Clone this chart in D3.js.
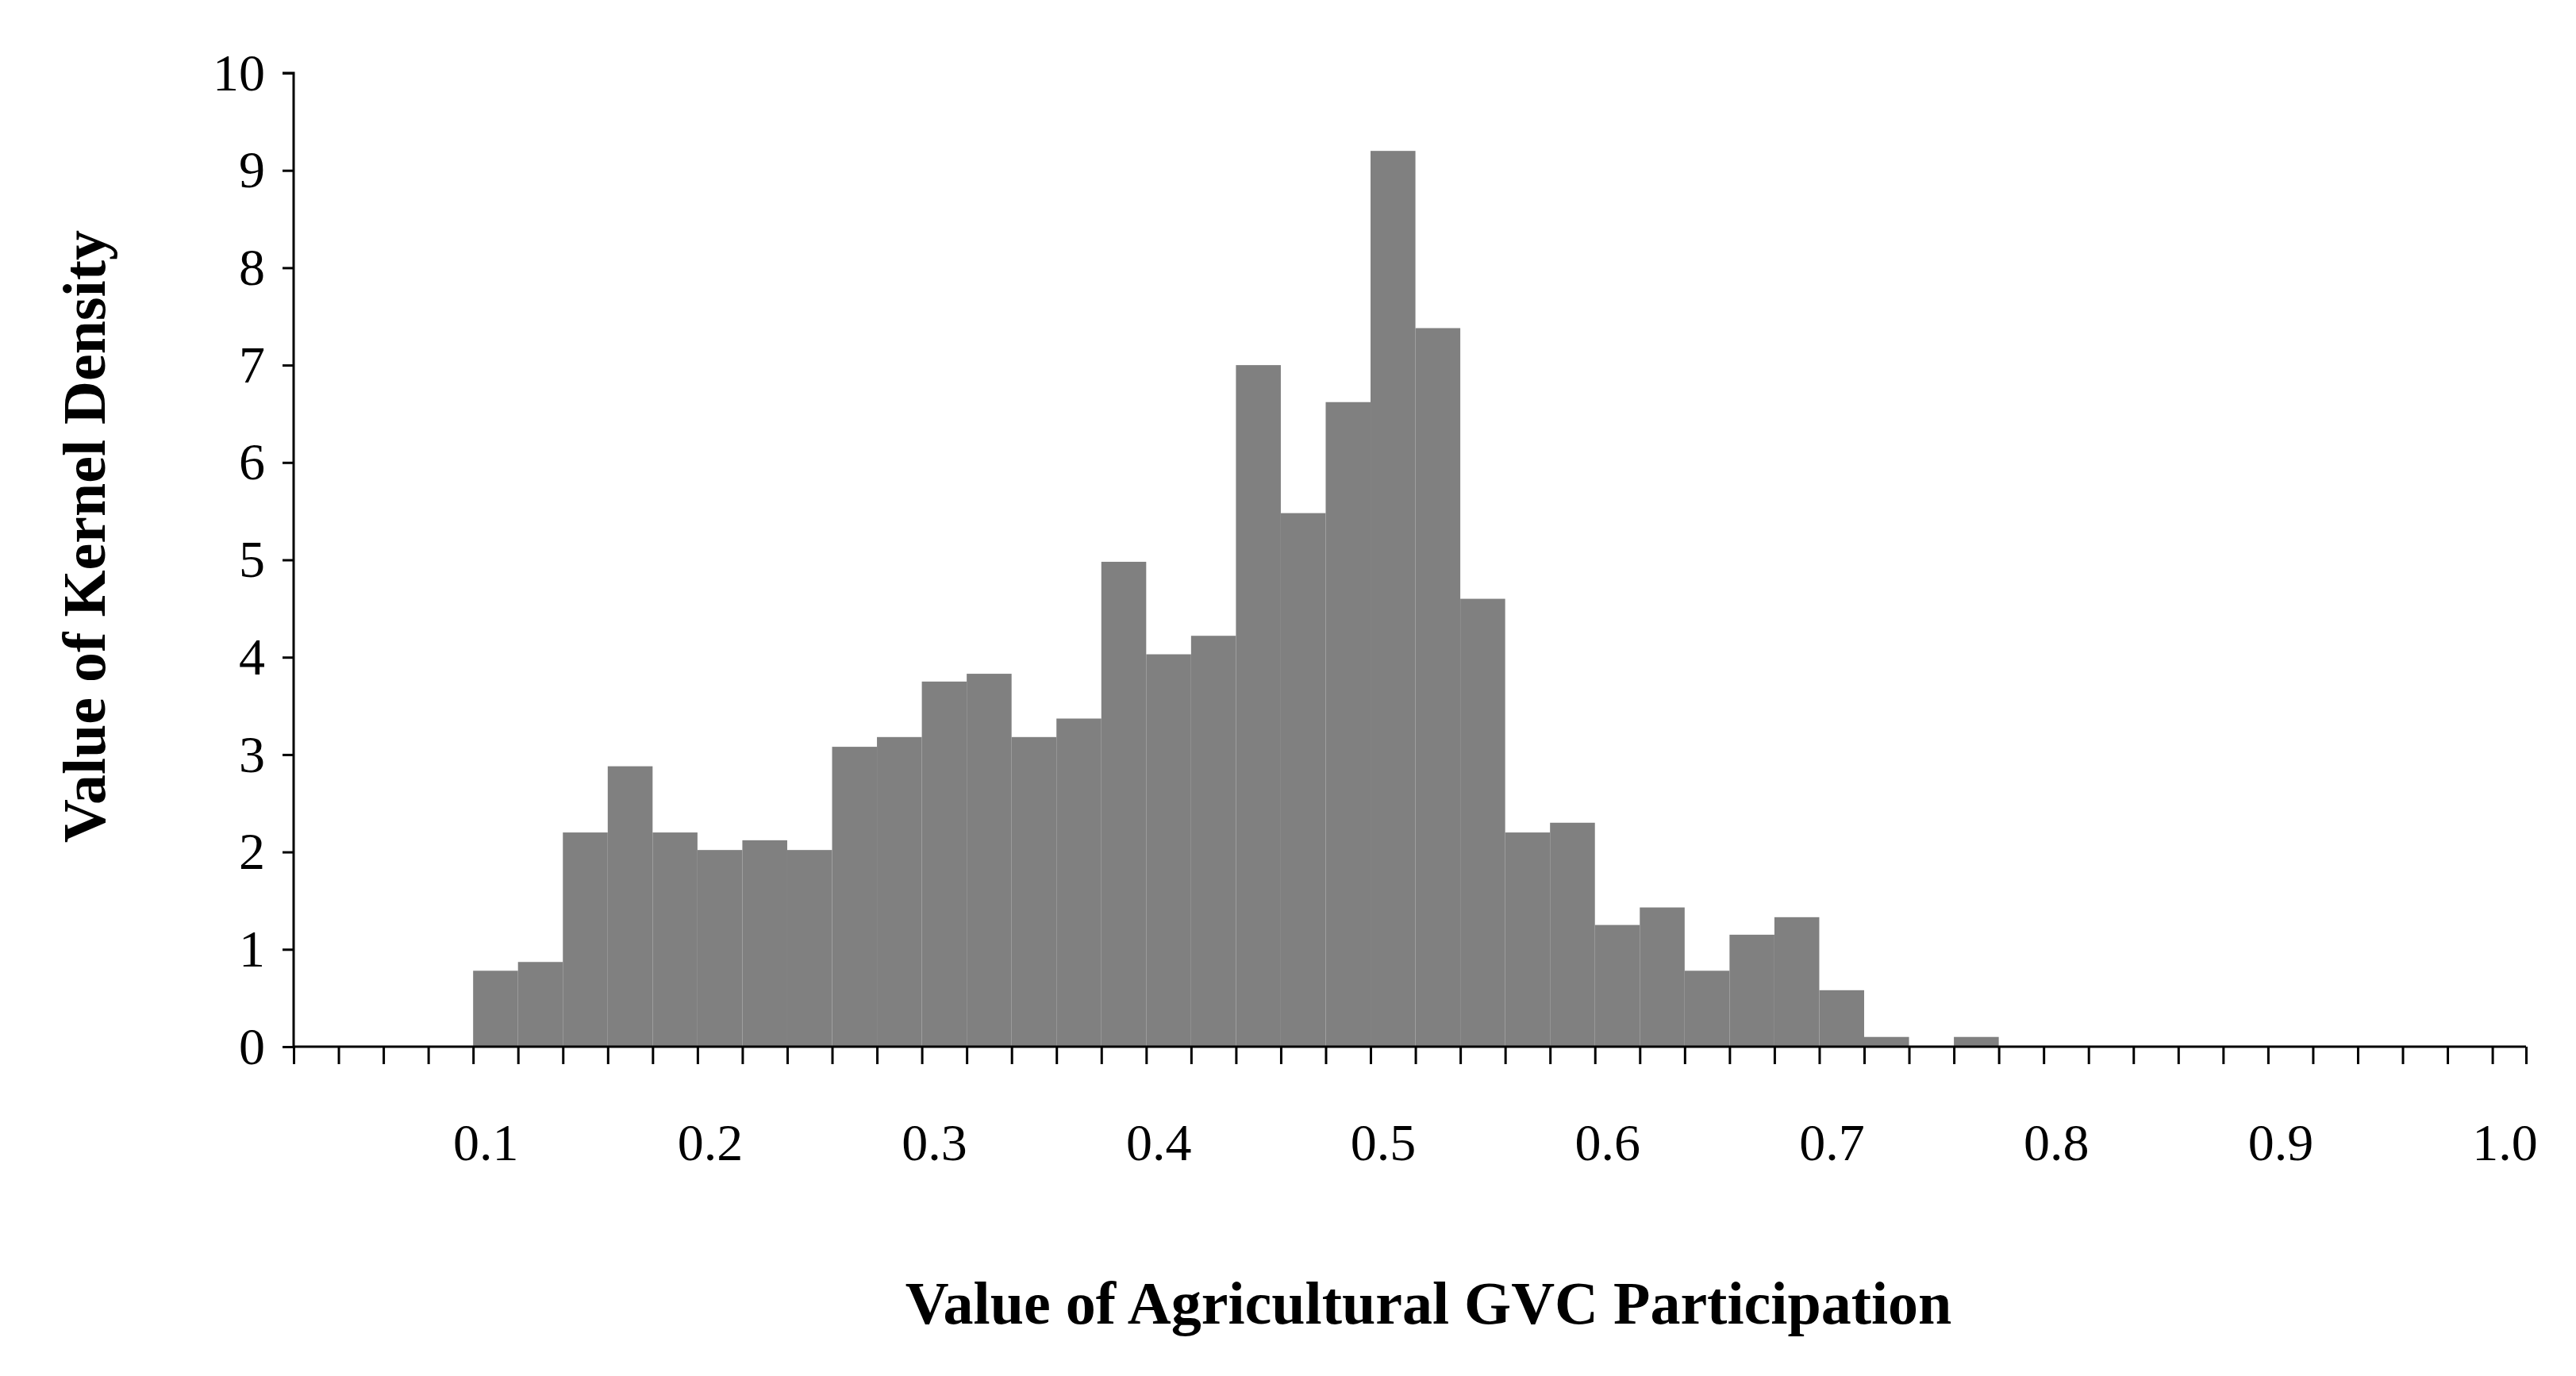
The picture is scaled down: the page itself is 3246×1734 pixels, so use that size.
<!DOCTYPE html>
<html><head><meta charset="utf-8">
<script src="https://cdn.jsdelivr.net/npm/d3@7"></script>
<style>body{margin:0;background:#fff}</style>
</head><body>
<svg id="c" width="3246" height="1734"></svg>
<script>
// bin start values (width 0.02) and kernel density heights
const binStarts = [0.10,0.12,0.14,0.16,0.18,0.20,0.22,0.24,0.26,0.28,0.30,0.32,0.34,0.36,0.38,0.40,0.42,0.44,0.46,0.48,0.50,0.52,0.54,0.56,0.58,0.60,0.62,0.64,0.66,0.68,0.70,0.72,0.74,0.76]
const density = [0.78,0.87,2.2,2.88,2.2,2.02,2.12,2.02,3.08,3.18,3.75,3.83,3.18,3.37,4.98,4.03,4.22,7.0,5.48,6.62,9.2,7.38,4.6,2.2,2.3,1.25,1.43,0.78,1.15,1.33,0.58,0.1,0,0.1]
const xLabels = [0.1,0.2,0.3,0.4,0.5,0.6,0.7,0.8,0.9,1.0]
const yTicks = d3.range(0, 11, 1)
const binW = 0.02

const font = '"Liberation Serif","DejaVu Serif",serif'
const svg = d3.select("#c")
const x = d3.scaleLinear().domain([0.02, 1.015]).range([370, 3183])
const y = d3.scaleLinear().domain([0, 10]).range([1319, 92])

svg.append("g").selectAll("rect")
  .data(binStarts)
  .join("rect")
  .attr("x", d => x(d))
  .attr("width", d => x(d + binW) - x(d))
  .attr("y", (d, i) => y(density[i]))
  .attr("height", (d, i) => y(0) - y(density[i]))
  .attr("fill", "#808080")

// y axis
const ya = svg.append("g").attr("transform", `translate(${x.range()[0]},0)`)
  .call(d3.axisLeft(y).tickValues(yTicks).tickSize(14).tickPadding(22).tickFormat(d3.format("d")))
ya.select(".domain").attr("stroke-width", 3).attr("d", `M-14,${y(10)}H0V${y(0)}`)
ya.selectAll(".tick line").attr("stroke-width", 3)
ya.selectAll("text").attr("font-family", font).attr("font-size", 66).attr("fill", "#000")

// x axis: ticks every 0.02
const tickVals = d3.range(0.02, 1.001, 0.02).concat([1.015])
const xa = svg.append("g").attr("transform", `translate(0,${y(0)})`)
  .call(d3.axisBottom(x).tickValues(tickVals).tickSize(22).tickFormat(""))
xa.select(".domain").attr("stroke-width", 3).attr("d", `M${x.range()[0]},0H${x.range()[1]}`)
xa.selectAll(".tick line").attr("stroke-width", 3)

svg.append("g").selectAll("text")
  .data(xLabels)
  .join("text")
  .attr("x", d => x(d) + 16)
  .attr("y", 1462)
  .attr("text-anchor", "middle")
  .attr("font-family", font).attr("font-size", 66)
  .text(d => d.toFixed(1))

svg.append("text")
  .attr("x", 1800).attr("y", 1668)
  .attr("text-anchor", "middle")
  .attr("font-family", font).attr("font-size", 76).attr("font-weight", "bold")
  .text("Value of Agricultural GVC Participation")

svg.append("text")
  .attr("transform", "translate(132,676) rotate(-90)")
  .attr("text-anchor", "middle")
  .attr("font-family", font).attr("font-size", 76).attr("font-weight", "bold")
  .text("Value of Kernel Density")
</script>
</body></html>
